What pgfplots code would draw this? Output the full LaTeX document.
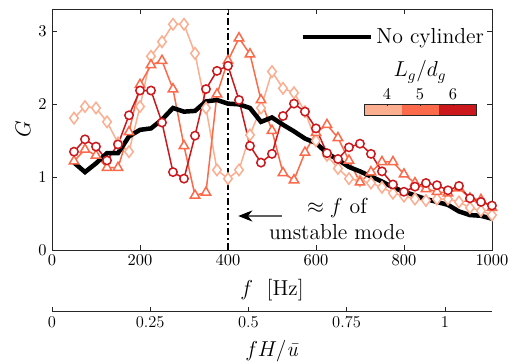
\documentclass[border=0pt]{standalone}
\usepackage{pgfplots}
\pgfplotsset{compat=1.18}
\usetikzlibrary{arrows.meta}
\definecolor{cLight}{RGB}{252,174,145}
\definecolor{cMed}{RGB}{251,106,74}
\definecolor{cDark}{RGB}{203,24,29}
\definecolor{axgray}{RGB}{38,38,38}
\begin{document}
\begin{tikzpicture}
\begin{axis}[name=main, at={(0pt,0pt)}, anchor=south west, scale only axis, width=293.3pt, height=160.7pt,
  xmin=0, xmax=1000, ymin=0, ymax=3.31,
  xtick={0,200,400,600,800,1000}, ytick={0,1,2,3},
  /pgf/number format/1000 sep={},
  tick align=inside, major tick length=3.3pt,
  axis line style={axgray, line width=0.4pt}, tick style={axgray, line width=0.4pt},
  tick label style={font=\fontsize{11}{13}\selectfont},
  xlabel={$f\ \ [\mathrm{Hz}]$}, ylabel={$G$},
  label style={font=\fontsize{14}{16}\selectfont},
  xlabel style={at={(axis description cs:0.5,-0.166)}, anchor=center},
  ylabel style={at={(axis description cs:-0.066,0.5)}, anchor=center},
  legend style={at={(axis cs:563.6,2.926)}, anchor=west, draw=none, fill=none,
    inner sep=0pt, font=\fontsize{14.5}{16}\selectfont},
  legend image code/.code={\draw[#1] (0pt,0pt) -- (45.7pt,0pt);},
]
\addplot[cLight, line width=1pt, mark=diamond*, mark size=3.8pt, mark options={fill=white, solid}, forget plot] table {
50 1.81
75 1.97
100 1.95
125 1.76
150 1.47
175 1.35
200 1.97
225 2.66
250 2.86
275 3.10
300 3.10
325 2.70
350 1.95
375 1.10
400 0.98
425 1.10
450 1.58
475 1.95
500 2.45
525 2.22
550 2.16
575 1.90
600 1.50
625 1.30
650 1.12
675 0.98
700 0.95
725 0.92
750 0.86
775 0.78
800 0.74
825 0.70
850 0.68
875 0.70
900 0.70
925 0.66
950 0.58
975 0.54
1000 0.48
};
\addplot[cMed, line width=1pt, mark=triangle*, mark size=3.6pt, mark options={fill=white, solid}, forget plot] table {
50 1.22
75 1.38
100 1.30
125 1.13
150 1.13
175 1.62
200 2.27
225 2.54
250 2.60
275 2.21
300 1.43
325 0.75
350 0.79
375 2.14
400 2.60
425 2.91
450 2.69
475 2.06
500 1.64
525 1.06
550 0.96
575 1.34
600 1.61
625 1.72
650 1.54
675 1.23
700 0.93
725 1.07
750 1.21
775 1.21
800 1.04
825 0.92
850 0.84
875 0.80
900 0.78
925 0.85
950 0.71
975 0.69
1000 0.58
};
\addplot[cDark, line width=1pt, mark=*, mark size=2.8pt, mark options={fill=white, solid}, forget plot] table {
50 1.35
75 1.52
100 1.42
125 1.23
150 1.45
175 1.85
200 2.19
225 2.19
250 1.75
275 1.07
300 0.98
325 1.57
350 2.21
375 2.46
400 2.53
425 2.06
450 1.43
475 1.20
500 1.32
525 1.84
550 2.01
575 1.90
600 1.67
625 1.33
650 1.25
675 1.41
700 1.46
725 1.32
750 1.08
775 0.90
800 0.80
825 0.87
850 0.92
875 0.89
900 0.82
925 0.88
950 0.71
975 0.66
1000 0.61
};
\addplot[black, line width=3pt, no marks] table {
50 1.20
75 1.07
100 1.19
125 1.33
150 1.33
175 1.56
200 1.65
225 1.67
250 1.79
275 1.95
300 1.90
325 1.91
350 2.04
375 2.06
400 2.01
425 2.00
450 1.95
475 1.76
500 1.82
525 1.72
550 1.63
575 1.53
600 1.47
625 1.33
650 1.24
675 1.14
700 1.08
725 1.01
750 0.94
775 0.86
800 0.80
825 0.75
850 0.70
875 0.66
900 0.62
925 0.53
950 0.48
975 0.47
1000 0.43
};
\addlegendentry{No cylinder}
\addplot[black, line width=1pt, dash pattern=on 5pt off 2pt on 1pt off 2pt, forget plot] coordinates {(400,0) (400,3.31)};
% colorbar
\fill[cLight] (axis cs:711,1.854) rectangle (axis cs:795.5,2.005);
\fill[cMed] (axis cs:795.5,1.854) rectangle (axis cs:880,2.005);
\fill[cDark] (axis cs:880,1.854) rectangle (axis cs:963.6,2.005);
\draw[axgray, line width=0.5pt] (axis cs:711,1.854) rectangle (axis cs:963.6,2.005);
\draw[axgray, line width=0.4pt] (axis cs:761.4,2.005) -- ++(0,-1.5pt);
\draw[axgray, line width=0.4pt] (axis cs:836.4,2.005) -- ++(0,-1.5pt);
\draw[axgray, line width=0.4pt] (axis cs:911.4,2.005) -- ++(0,-1.5pt);
\node[font=\fontsize{11}{13}\selectfont] at (axis cs:761.4,2.143) {$4$};
\node[font=\fontsize{11}{13}\selectfont] at (axis cs:836.4,2.143) {$5$};
\node[font=\fontsize{11}{13}\selectfont] at (axis cs:911.4,2.143) {$6$};
\node[font=\fontsize{14}{16}\selectfont] at (axis cs:836.4,2.445) {$L_g/d_g$};
% annotation
\node[font=\fontsize{14.5}{17.3}\selectfont, align=center] at (axis cs:647.7,0.43) {$\approx f$ of\\unstable mode};
\draw[gray!75!black, line width=0.7pt, -{Stealth[length=9.5pt, width=7.5pt, black]}] (axis cs:522,0.467) -- (axis cs:423.4,0.467);
\end{axis}
\begin{axis}[at={(0pt,-40.7pt)}, anchor=south west, scale only axis, width=293.3pt, height=10pt,
  xmin=0, xmax=1.12, ymin=0, ymax=1,
  axis x line*=bottom, hide y axis,
  xtick={0,0.25,0.5,0.75,1}, xticklabels={0,0.25,0.5,0.75,1},
  tick align=inside, major tick length=2.7pt,
  axis line style={axgray, line width=0.4pt}, tick style={axgray, line width=0.4pt},
  tick label style={font=\fontsize{11}{13}\selectfont},
  xlabel={$fH/$\textit{\=u}},
  label style={font=\fontsize{14}{16}\selectfont},
  xlabel style={at={(axis description cs:0.5,-2.67)}, anchor=center},
]
\addplot[draw=none, forget plot] coordinates {(0,0) (1.12,0)};
\end{axis}
\pgfresetboundingbox
\path (-34.67pt,-75.33pt) rectangle (311.33pt,166.67pt);
\end{tikzpicture}
\end{document}
